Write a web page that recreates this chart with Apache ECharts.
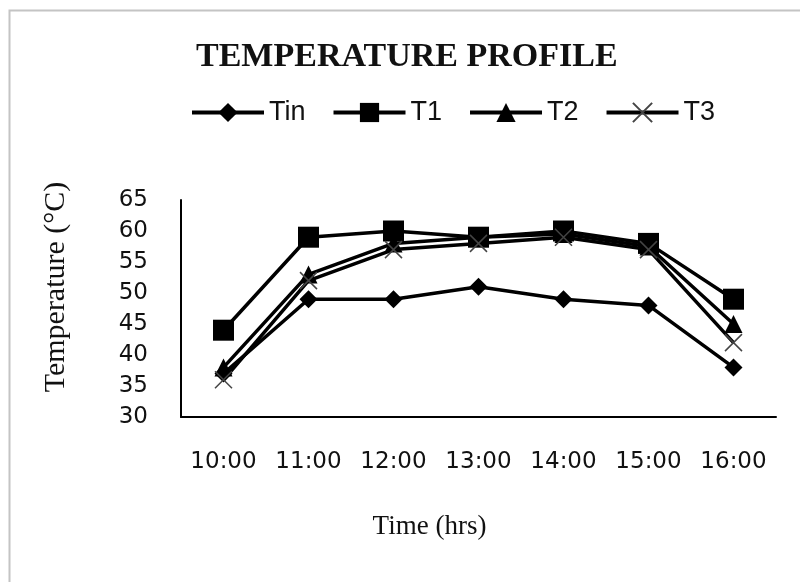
<!DOCTYPE html>
<html>
<head>
<meta charset="utf-8">
<script src="https://cdn.jsdelivr.net/npm/echarts@6/dist/echarts.min.js"></script>
<style>
	html, body { margin: 0; padding: 0; background: #fff; }
	#main { width: 800px; height: 582px; }
</style>
</head>
<body>
<div id="main"></div>
<script>
var categories = ['10:00', '11:00', '12:00', '13:00', '14:00', '15:00', '16:00'];
var seriesNames = ['Tin', 'T1', 'T2', 'T3'];
var tinValues = [37, 49, 49, 51, 49, 48, 38];
var t1Values = [44, 59, 60, 59, 60, 58, 49];
var t2Values = [38, 53, 58, 59, 59.5, 57.5, 45];
var t3Values = [36, 52, 57, 58, 59, 57, 42];

var myChart = echarts.init(document.getElementById('main'));

function lineSeries(name, data, symbol, size, hollow) {
	return {
		name: name,
		type: 'line',
		data: data,
		symbol: symbol,
		symbolSize: size,
		showAllSymbol: true,
		lineStyle: { color: '#000', width: 3.5 },
		itemStyle: hollow ? {
			color: 'transparent',
			borderColor: '#444',
			borderWidth: 1.5
		} : { color: '#000', borderWidth: 0 },
		emphasis: { disabled: true }
	};
}

var option = {
	animation: false,
	backgroundColor: '#fff',
	graphic: [{
		type: 'rect',
		shape: { x: 9.5, y: 10.5, width: 900, height: 700 },
		style: { fill: 'none', stroke: '#c4c4c4', lineWidth: 2 },
		silent: true
	}],
	title: {
		text: 'TEMPERATURE PROFILE',
		left: 196,
		top: 40,
		padding: 0,
		textStyle: {
			fontFamily: 'Liberation Serif',
			fontWeight: 'bold',
			fontSize: 34,
			color: '#111'
		}
	},
	legend: {
		data: seriesNames,
		left: 190,
		top: 99,
		padding: 0,
		itemWidth: 72,
		itemHeight: 24,
		itemGap: 26,
		lineStyle: { width: 4 },
		textStyle: {
			fontFamily: 'Liberation Sans',
			fontSize: 27,
			color: '#111'
		}
	},
	grid: {
		left: 181,
		top: 200,
		width: 595,
		height: 217,
		containLabel: false,
		outerBoundsMode: 'none'
	},
	xAxis: {
		type: 'category',
		data: categories,
		boundaryGap: true,
		name: 'Time (hrs)',
		nameLocation: 'middle',
		nameGap: 96,
		nameTextStyle: {
			fontFamily: 'Liberation Serif',
			fontSize: 27,
			color: '#111',
			padding: [0, 98, 0, 0]
		},
		axisLine: { lineStyle: { color: '#000', width: 2 } },
		axisTick: { show: false },
		axisLabel: {
			interval: 0,
			margin: 34,
			fontFamily: 'DejaVu Sans',
			fontSize: 23,
			color: '#111'
		},
		splitLine: { show: false }
	},
	yAxis: {
		type: 'value',
		min: 30,
		max: 65,
		interval: 5,
		name: 'Temperature (°C)',
		nameLocation: 'middle',
		nameGap: 110,
		nameTextStyle: {
			fontFamily: 'Liberation Serif',
			fontSize: 30,
			color: '#111',
			padding: [0, 0, 0, 43]
		},
		axisLine: { show: true, lineStyle: { color: '#000', width: 2 } },
		axisTick: { show: false },
		axisLabel: {
			margin: 33,
			fontFamily: 'DejaVu Sans',
			fontSize: 23,
			color: '#111'
		},
		splitLine: { show: false }
	},
	series: [
		lineSeries('Tin', tinValues, 'diamond', 18, false),
		lineSeries('T1', t1Values, 'rect', 21, false),
		lineSeries('T2', t2Values, 'triangle', 18, false),
		lineSeries('T3', t3Values, 'path://M0,0L10,10M10,0L0,10', 17, true)
	]
};
myChart.setOption(option);
</script>
</body>
</html>
